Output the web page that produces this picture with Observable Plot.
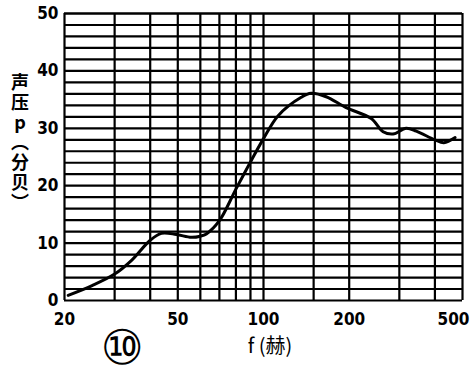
<!DOCTYPE html>
<html><head><meta charset="utf-8">
<script src="https://cdn.jsdelivr.net/npm/d3@7"></script>
<script src="https://cdn.jsdelivr.net/npm/@observablehq/plot@0.6"></script>
<style>
body{margin:0;background:#fff;}
#c{position:relative;width:471px;height:377px;}
</style>
</head><body><div id="c"></div>
<script>
const freq = [20.6, 25, 30, 34.4, 40, 43.8, 49.4, 55.8, 60, 63, 70, 80, 90.6, 100, 112.6, 135.7, 147, 166, 195, 239, 263, 285, 317, 344, 400, 430, 471];
const spl  = [0.9, 2.6, 4.6, 7.0, 10.5, 11.7, 11.5, 11.0, 11.2, 11.6, 13.9, 19.4, 24.4, 28.2, 32.2, 35.4, 36.1, 35.5, 33.6, 31.7, 29.4, 29.0, 30.0, 29.5, 28.0, 27.5, 28.4];
const xTicks = [20, 50, 100, 200, 500];
const yTicks = [0, 10, 20, 30, 40, 50];
const xGrid = [20, 30, 40, 50, 60, 70, 80, 90, 100, 150, 200, 300, 400, 500];
const yGrid = d3.range(0, 51, 2).concat([50]);
const yLabel = "声压p︵分贝︶";
const xLabel = "f (赫)";
const figLabel = "⑩";

const data = freq.map((f, i) => ({f, p: spl[i]}));

const chart = Plot.plot({
  width: 471, height: 377,
  marginLeft: 64, marginRight: 9, marginTop: 13, marginBottom: 77,
  style: {fontFamily: "DejaVu Sans Condensed, DejaVu Sans, sans-serif", fontSize: "17px", color: "#000", background: "#fff"},
  x: {type: "log", domain: [20, 500], ticks: xTicks, tickFormat: d => String(d), label: null, tickSize: 0, tickPadding: 12},
  y: {domain: [0, 50], ticks: yTicks, label: null, tickSize: 0, tickPadding: 6},
  marks: [
    Plot.ruleY(yGrid, {stroke: "#000", strokeWidth: 2.2}),
    Plot.ruleX(xGrid, {stroke: "#000", strokeWidth: 2.2}),
    Plot.line(data, {x: "f", y: "p", curve: "catmull-rom", stroke: "#000", strokeWidth: 3})
  ]
});
document.getElementById("c").appendChild(chart);
const svg = d3.select(chart);
svg.selectAll("g[aria-label='x-axis tick label'] text, g[aria-label='y-axis tick label'] text").attr("font-weight", "bold");
const xt = svg.selectAll("g[aria-label='x-axis tick label'] text").nodes();
if (xt.length) d3.select(xt[xt.length - 1]).attr("dx", -9);
svg.append("text").attr("x", 20).attr("y", 143)
  .attr("font-size", 18).attr("font-weight", "bold")
  .attr("font-family", "Noto Sans CJK SC, sans-serif")
  .style("writing-mode", "vertical-rl").style("text-orientation", "upright")
  .attr("letter-spacing", 2)
  .text(yLabel);
svg.append("text").attr("x", 270).attr("y", 353).attr("text-anchor", "middle")
  .attr("font-size", 20).attr("font-family", "Noto Sans CJK SC, sans-serif").text(xLabel);
svg.append("text").attr("x", 122).attr("y", 364).attr("text-anchor", "middle")
  .attr("font-size", 48).attr("font-family", "DejaVu Sans, sans-serif").text(figLabel);
</script>
</body></html>
